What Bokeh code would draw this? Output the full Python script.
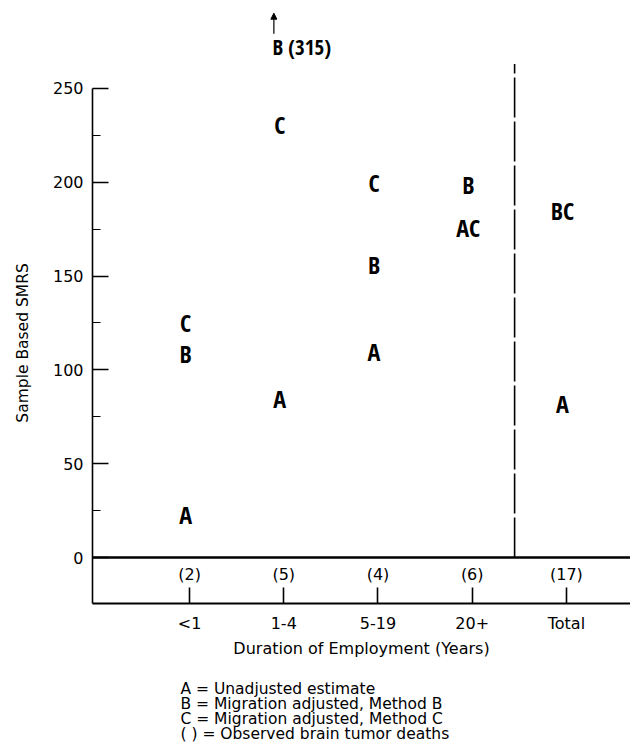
from bokeh.plotting import figure
from bokeh.layouts import column
from bokeh.models import FixedTicker, Span, Label, Arrow, NormalHead, Range1d, ColumnDataSource
from bokeh.core.properties import value
from bokeh.embed import file_html
from bokeh.resources import INLINE

# ---- data ----
categories = ["<1", "1-4", "5-19", "20+", "Total"]
deaths = [2, 5, 4, 6, 17]
series_A = [23, 85, 110, 176, 82]      # Unadjusted estimate
series_B = [109, 315, 156, 199, 185]   # Migration adjusted, Method B
series_C = [125, 231, 200, 176, 185]   # Migration adjusted, Method C
y_ticks = [0, 50, 100, 150, 200, 250]
y_minor = [25, 75, 125, 175, 225]
legend_lines = [
    "A = Unadjusted estimate",
    "B = Migration adjusted, Method B",
    "C = Migration adjusted, Method C",
    "( ) = Observed brain tumor deaths",
]

# ---- layout constants ----
Y_LO, Y_HI = -24.5, 292.6
X_LO, X_HI = -0.03, 5.68
AXIS_MAX = 250
DIVIDER_X = 4.45
DIVIDER_TOP = 263
SANS = "DejaVu Sans"
LETTER_FONT_NAME = "Open Sans Condensed"

p = figure(width=630, height=672, output_backend="svg", toolbar_location=None,
           x_range=Range1d(X_LO, X_HI), y_range=Range1d(Y_LO, Y_HI),
           min_border_left=92, min_border_right=0, min_border_top=8, min_border_bottom=69)
p.outline_line_color = None
p.grid.visible = False

# y axis
ya = p.yaxis[0]
ya.ticker = FixedTicker(ticks=y_ticks, minor_ticks=y_minor)
ya.bounds = (Y_LO, AXIS_MAX)
ya.major_tick_in = 16
ya.major_tick_out = 0
ya.minor_tick_in = 8
ya.minor_tick_out = 0
ya.axis_line_width = 1.6
ya.major_tick_line_width = 1.6
ya.minor_tick_line_width = 1.2
ya.axis_line_color = "black"
ya.major_label_text_font = SANS
ya.major_label_text_font_size = "16px"
ya.major_label_text_color = "black"
ya.major_label_standoff = 9
ya.axis_label = "Sample Based SMRS" + "\u00a0" * 15
ya.axis_label_text_font = SANS
ya.axis_label_text_font_size = "15.5px"
ya.axis_label_text_font_style = "normal"
ya.axis_label_text_color = "black"
ya.axis_label_standoff = 18

# x axis
xa = p.xaxis[0]
xa.ticker = FixedTicker(ticks=list(range(1, len(categories) + 1)), minor_ticks=[])
xa.major_label_overrides = {i + 1: c for i, c in enumerate(categories)}
xa.major_tick_in = 16
xa.major_tick_out = 0
xa.minor_tick_in = 0
xa.minor_tick_out = 0
xa.axis_line_width = 2
xa.major_tick_line_width = 1.6
xa.axis_line_color = "black"
xa.major_label_text_font = SANS
xa.major_label_text_font_size = "16px"
xa.major_label_text_color = "black"
xa.major_label_standoff = 10
xa.axis_label = "Duration of Employment (Years)"
xa.axis_label_text_font = SANS
xa.axis_label_text_font_size = "16px"
xa.axis_label_text_font_style = "normal"
xa.axis_label_text_color = "black"
xa.axis_label_standoff = 3

# zero line
p.add_layout(Span(location=0, dimension="width", line_color="black", line_width=2.5))

# dashed divider before Total
p.segment(x0=[DIVIDER_X], y0=[0], x1=[DIVIDER_X], y1=[DIVIDER_TOP],
          line_color="black", line_width=1.6, line_dash="40 4")

# letters: combine coinciding values
series = [("A", series_A), ("B", series_B), ("C", series_C)]
groups = {}
offchart = []
for letter, vals in series:
    for i, v in enumerate(vals):
        if v > Y_HI:
            offchart.append((i, letter, v))
        else:
            groups.setdefault((i, v), "")
            groups[(i, v)] += letter
src = ColumnDataSource(dict(x=[k[0] + 1 for k in groups], y=[k[1] for k in groups],
                            t=list(groups.values())))
p.text(x="x", y="y", text="t", source=src, text_align="center", text_baseline="middle",
       x_offset=-4, text_font=value(LETTER_FONT_NAME), text_font_size="24px",
       text_font_style="bold", text_color="black")

# off-chart value shown at top with arrow
for i, letter, v in offchart:
    cx = i + 1 - 0.12
    p.add_layout(Label(x=cx, y=Y_HI - 20.5, text=f"{letter} ({v})", text_align="left",
                       text_baseline="middle", text_font=LETTER_FONT_NAME, text_font_size="21px",
                       text_font_style="bold", text_color="black"))
    ax = i + 1 - 0.105
    p.add_layout(Arrow(x_start=ax, y_start=Y_HI - 13.5, x_end=ax, y_end=Y_HI - 2.5,
                       line_width=1.2, line_color="black",
                       end=NormalHead(size=6, fill_color="black", line_color="black")))

# observed deaths counts
p.text(x=list(range(1, len(categories) + 1)), y=[-9] * len(deaths),
       text=[f"({d})" for d in deaths], text_align="center", text_baseline="middle",
       text_font=value(SANS), text_font_size="16px", text_color="black")

# legend block below the chart
q = figure(width=630, height=80, output_backend="svg", toolbar_location=None,
           x_range=Range1d(0, 630), y_range=Range1d(80, 0),
           x_axis_type=None, y_axis_type=None,
           min_border_left=0, min_border_right=0, min_border_top=0, min_border_bottom=0)
q.outline_line_color = None
q.grid.visible = False
q.text(x=[103] * len(legend_lines), y=[16 + 15 * k for k in range(len(legend_lines))],
       text=legend_lines, text_align="left", text_baseline="middle",
       text_font=value(SANS), text_font_size="15.5px", text_color="black")

layout = column(p, q, spacing=0)
open("out.html", "w").write(file_html(layout, INLINE))
